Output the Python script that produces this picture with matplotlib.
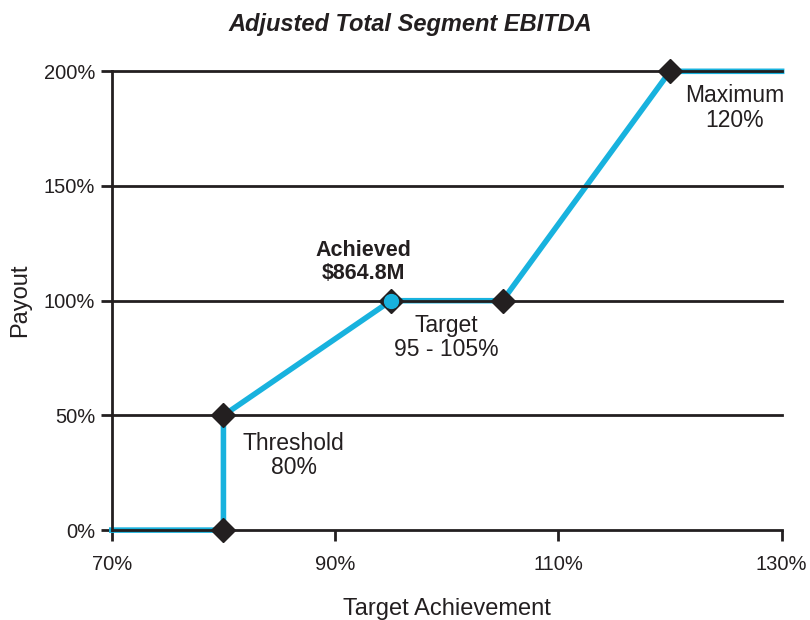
import matplotlib
matplotlib.use("Agg")
import matplotlib.pyplot as plt
from matplotlib.ticker import FuncFormatter

# Data
curve_x = [70, 80, 80, 95, 105, 120, 130]
curve_y = [0, 0, 50, 100, 100, 200, 200]
diamond_x = [80, 80, 95, 105, 120]
diamond_y = [0, 50, 100, 100, 200]
achieved_x = [95]
achieved_y = [100]
x_ticks = [70, 90, 110, 130]
y_ticks = [0, 50, 100, 150, 200]
labels = [
    ("Achieved\n$864.8M", 92.5, 117, True),
    ("Target\n95 - 105%", 100, 84, False),
    ("Maximum\n120%", 125.8, 184, False),
    ("Threshold\n80%", 86.3, 32.5, False),
]

plt.rcParams['font.family'] = ['Liberation Sans', 'DejaVu Sans']
black = '#231f20'
cyan = '#18b2de'

fig = plt.figure(figsize=(8.1, 6.2), dpi=100)
ax = fig.add_axes([0.138, 0.145, 0.827, 0.740])

ax.plot(curve_x, curve_y, color=cyan, lw=4, zorder=2, solid_joinstyle='miter')
for yv in y_ticks:
    ax.axhline(yv, color=black, lw=2, zorder=3)
ax.plot(diamond_x, diamond_y, linestyle='none', marker='D', markersize=12,
        color=black, zorder=4)
ax.plot(achieved_x, achieved_y, linestyle='none', marker='o', markersize=10,
        color=cyan, zorder=5)

for txt, x, y, bold in labels:
    ax.text(x, y, txt, ha='center', va='center',
            fontsize=15.5 if bold else 16.5,
            fontweight='bold' if bold else 'normal', color=black,
            linespacing=1.1, zorder=6)

ax.set_xlim(70, 130)
ax.set_ylim(0, 200)
ax.set_xticks(x_ticks)
ax.set_yticks(y_ticks)
ax.xaxis.set_major_formatter(FuncFormatter(lambda v, p: f"{int(v)}%"))
ax.yaxis.set_major_formatter(FuncFormatter(lambda v, p: f"{int(v)}%"))
ax.tick_params(axis='both', direction='out', length=8, width=2, color=black,
               labelsize=14.5, labelcolor=black)
ax.tick_params(axis='x', pad=10)
ax.tick_params(axis='y', pad=4)
for s in ['top', 'right', 'bottom']:
    ax.spines[s].set_visible(False)
ax.spines['left'].set_linewidth(2)
ax.spines['left'].set_color(black)
for ln in ax.lines:
    ln.set_clip_on(False)

ax.set_xlabel("Target Achievement", fontsize=17, color=black, labelpad=17)
ax.set_ylabel("Payout", fontsize=17, color=black, labelpad=9)
fig.suptitle("Adjusted Total Segment EBITDA", x=0.506, y=0.961, va='center',
             fontsize=17, fontweight='bold', fontstyle='italic', color=black)

fig.savefig("out.png", dpi=100, facecolor='white')
